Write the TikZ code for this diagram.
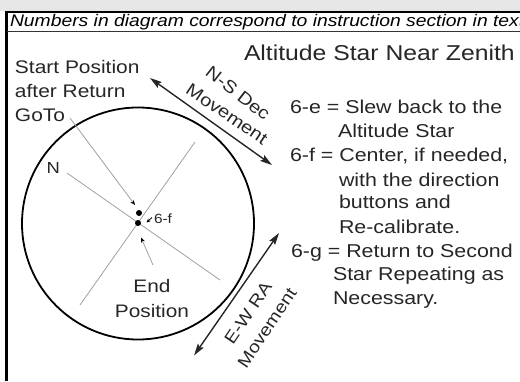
\documentclass[tikz,border=0pt]{standalone}
\usepackage{fontspec}
\setmainfont{Liberation Sans}[FakeStretch=1.15]
\usetikzlibrary{arrows.meta}
\definecolor{bandgray}{HTML}{E6E6E6}
\definecolor{thingray}{HTML}{A0A0A0}
\tikzset{
  txt/.style={inner sep=0pt, outer sep=0pt, anchor=base west, text=black!85},
  bigtxt/.style={txt, font=\fontsize{18.6}{24}\selectfont},
  thinline/.style={draw=thingray, line width=0.8pt},
  pointer/.style={thinline, -{Stealth[length=5pt,width=4pt,color=black]}},
  movearrow/.style={draw=black!85, line width=1.4pt, {Stealth[length=12pt,width=7pt,inset=2pt]}-{Stealth[length=12pt,width=7pt,inset=2pt]}},
  dotn/.style={circle, fill=black, inner sep=0pt, minimum size=6pt},
  rottxt/.style={inner sep=0pt, text=black!85, font=\fontsize{17.5}{22}\selectfont}
}
\begin{document}
\begin{tikzpicture}[x=1pt,y=-1pt]
\useasboundingbox (0,0) rectangle (520,381);
% top grey strip
\fill[bandgray] (0,0) rectangle (520,10.5);
% frame lines
\coordinate (ftl) at (5.5,11.5);
\coordinate (ftr) at (520,11.5);
\coordinate (fbl) at (6.5,381);
\coordinate (ftl2) at (6.5,11);
\coordinate (cbl) at (6.5,31.5);
\coordinate (cbr) at (520,31.5);
\draw[line width=2pt] (ftl) -- (ftr);
\draw[line width=2.5pt] (ftl2) -- (fbl);
\draw[line width=1.4pt, draw=black!80] (cbl) -- (cbr);
% caption
\begin{scope}
\clip (8,12.5) rectangle (520,31);
\node[txt, font=\fontsize{16.8}{20}\selectfont\itshape, text=black] (cap) at (10,26.5)
  {Numbers in diagram correspond to instruction section in text};
\end{scope}
% title
\node[txt, font=\fontsize{21.5}{26}\selectfont] (title) at (244,60) {Altitude Star Near Zenith};
% circle
\node[circle, draw=black, line width=1.8pt, minimum size=232pt, inner sep=0pt] (circ) at (138,223.5) {};
% crossing thin lines
\coordinate (l1a) at (67,173);
\coordinate (l1b) at (220,280);
\coordinate (l2a) at (195,142);
\coordinate (l2b) at (80,305);
\draw[thinline] (l1a) -- (l1b);
\draw[thinline] (l2a) -- (l2b);
% dots
\node[dotn] (dstart) at (139,213) {};
\node[dotn] (dend) at (138,223) {};
% pointers
\coordinate (pstart) at (70,118);
\coordinate (pstartend) at (135,205);
\draw[pointer] (pstart) -- (pstartend);
\coordinate (pend) at (153,265);
\coordinate (pendend) at (141,237.5);
\draw[pointer] (pend) -- (pendend);
\coordinate (p6f) at (152,217.5);
\coordinate (p6fend) at (146.5,222.5);
\draw[thinline, draw=black, -{Stealth[length=4pt,width=3.5pt]}] (p6f) -- (p6fend);
\node[txt, font=\fontsize{13.4}{16}\selectfont] (l6f) at (154,223) {6-f};
% left labels
\node[txt, font=\fontsize{18.2}{24}\selectfont] (s1) at (15,73.3) {Start Position};
\node[txt, font=\fontsize{18.2}{24}\selectfont] (s2) at (15,97.3) {after Return};
\node[txt, font=\fontsize{18.2}{24}\selectfont] (s3) at (15,121.3) {GoTo};
\node[txt, font=\fontsize{16}{20}\selectfont] (nlab) at (46.5,173.5) {N};
\node[txt, anchor=base, font=\fontsize{18.1}{24}\selectfont] (e1) at (152,292.5) {End};
\node[txt, anchor=base, font=\fontsize{18.1}{24}\selectfont] (e2) at (152,317.5) {Position};
% movement arrows
\coordinate (nsa) at (150,78);
\coordinate (nsb) at (272,165);
\draw[movearrow] (nsa) -- (nsb);
\coordinate (ewa) at (194,355.5);
\coordinate (ewb) at (279,233);
\draw[movearrow] (ewa) -- (ewb);
\node[rottxt, rotate=-38] (nsdec) at (238,93) {N-S Dec};
\node[rottxt, rotate=-34] (nsmov) at (227,114) {Movement};
\node[rottxt, rotate=56, font=\fontsize{17}{22}\selectfont] (ewra) at (248,313) {E-W RA};
\node[rottxt, rotate=56, font=\fontsize{17}{22}\selectfont] (ewmov) at (267,328) {Movement};
% right text block
\node[bigtxt] (r1) at (290,113.5) {6-e = Slew back to the};
\node[bigtxt] (r2) at (338,137.5) {Altitude Star};
\node[bigtxt] (r3) at (290,161.5) {6-f = Center, if needed,};
\node[bigtxt] (r4) at (339,186) {with the direction};
\node[bigtxt] (r5) at (339,208.5) {buttons and};
\node[bigtxt] (r6) at (339,233) {Re-calibrate.};
\node[bigtxt] (r7) at (291,257) {6-g = Return to Second};
\node[bigtxt] (r8) at (333,280.5) {Star Repeating as};
\node[bigtxt] (r9) at (333,304.5) {Necessary.};
\end{tikzpicture}
\end{document}
